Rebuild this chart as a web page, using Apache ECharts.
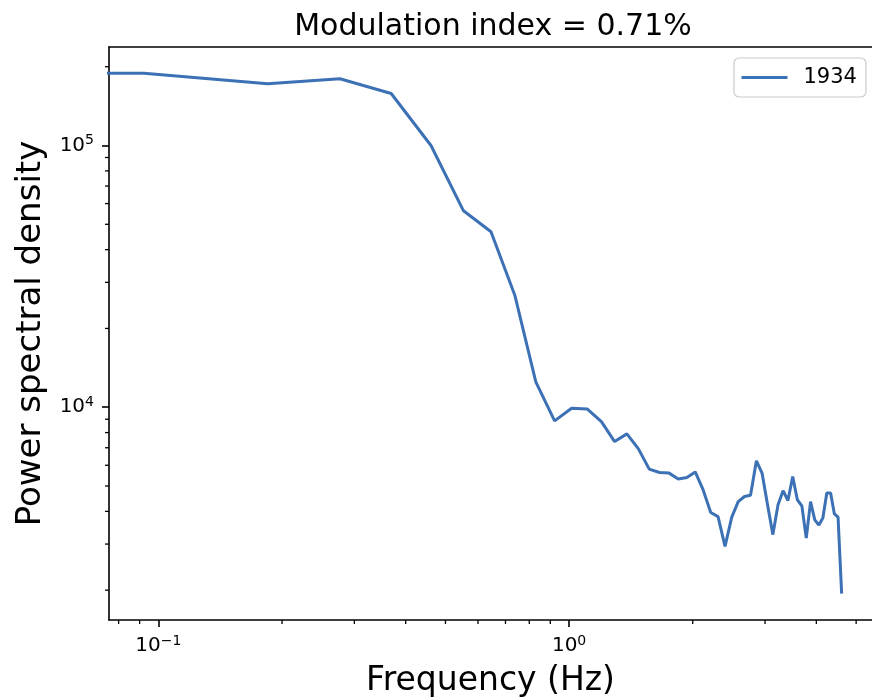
<!DOCTYPE html>
<html>
<head>
<meta charset="utf-8">
<script src="https://cdn.jsdelivr.net/npm/echarts@6/dist/echarts.min.js"></script>
<style>
html,body{margin:0;padding:0;background:#fff;overflow:hidden;}
#chart{width:872px;height:699px;}
</style>
</head>
<body>
<div id="chart"></div>
<script>
// ---- data ----
const frequencies = [0, 0.0922, 0.1844, 0.2766, 0.3688, 0.461, 0.5532, 0.6454, 0.7376, 0.8298,
  0.922, 1.0142, 1.1064, 1.1986, 1.2908, 1.383, 1.4752, 1.5674, 1.6596, 1.7518,
  1.844, 1.9362, 2.0284, 2.1206, 2.2128, 2.305, 2.3972, 2.4894, 2.5816, 2.6738,
  2.766, 2.8582, 2.9504, 3.0426, 3.1348, 3.227, 3.3192, 3.4114, 3.5036, 3.5958,
  3.688, 3.7802, 3.8724, 3.9646, 4.0568, 4.149, 4.2412, 4.3334, 4.4256, 4.5178, 4.61];
const psd1934 = [189000, 189000, 172000, 180000, 158000, 100000, 56300, 46800, 26800, 12500,
  8870, 9910, 9850, 8810, 7390, 7910, 6930, 5800, 5630, 5600,
  5320, 5390, 5660, 4830, 3960, 3820, 2940, 3800, 4360, 4560,
  4610, 6240, 5600, 4240, 3260, 4240, 4800, 4400, 5430, 4430,
  4200, 3160, 4360, 3710, 3550, 3770, 4700, 4700, 3910, 3800, 1940];
const seriesName = '1934';
const titleText = 'Modulation index = 0.71%';
const xLabel = 'Frequency (Hz)';
const yLabel = 'Power spectral density';
const xMinorTicks = [0.08, 0.09, 0.2, 0.3, 0.4, 0.5, 0.6, 0.7, 0.8, 0.9, 2, 3, 4, 5];
const yMinorTicks = [2000, 3000, 4000, 5000, 6000, 7000, 8000, 9000,
  20000, 30000, 40000, 50000, 60000, 70000, 80000, 90000, 200000];
const xRange = [0.0758, 5.465];
const yRange = [1538, 237900];

// ---- chart ----
const FONT = 'DejaVu Sans';
const chart = echarts.init(document.getElementById('chart'), null, {renderer: 'canvas'});
const lineData = frequencies.map((f, i) => [Math.max(f, 1e-4), psd1934[i]]);
function powLabel(v) {
  const lg = Math.log10(v);
  const e = Math.round(lg);
  if (Math.abs(lg - e) > 1e-6) return '';
  return '{b|10}{s|' + String(e).replace('-', '\u2212') + '}';
}
const richLab = {
  b: {fontSize: 20, fontFamily: FONT, color: '#000'},
  s: {fontSize: 14, fontFamily: FONT, color: '#000', padding: [0, 0, 10, 0]}
};
const MINOR_LEN = 4;
const spine = {show: true, lineStyle: {color: '#000', width: 1.6}};
chart.setOption({
  animation: false,
  backgroundColor: '#fff',
  title: {
    text: titleText, left: 488, top: 7, textAlign: 'center',
    textStyle: {fontFamily: FONT, fontSize: 30, fontWeight: 'normal', color: '#000'}
  },
  grid: {left: 109, top: 47, width: 763, height: 573, show: false,
    containLabel: false, outerBoundsMode: 'none'},
  legend: {
    data: [seriesName], left: 734, top: 58, orient: 'vertical',
    icon: 'rect', itemWidth: 46, itemHeight: 3,
    padding: [9, 9, 9, 7.5], borderColor: '#cccccc', borderWidth: 1.2, borderRadius: 5,
    backgroundColor: 'rgba(255,255,255,0.8)',
    textStyle: {fontFamily: FONT, fontSize: 21, color: '#000', padding: [0, 0, 0, 11]}
  },
  graphic: [{
    type: 'rect', z: 100, silent: true,
    shape: {x: 868.6, y: 48.5, width: 4, height: 570},
    style: {fill: '#fff'}
  }],
  xAxis: [{
    type: 'log', logBase: 10, min: xRange[0], max: xRange[1], position: 'bottom',
    axisLine: spine, splitLine: {show: false},
    axisTick: {show: true, length: 7, lineStyle: {color: '#000', width: 1.6}},
    axisLabel: {margin: 14, formatter: powLabel, rich: richLab, showMinLabel: false, showMaxLabel: false},
    name: xLabel, nameLocation: 'middle', nameGap: 45,
    nameTextStyle: {fontFamily: FONT, fontSize: 33, color: '#000'}
  }, {
    type: 'log', logBase: 10, min: xRange[0], max: xRange[1], position: 'top',
    axisLine: spine, splitLine: {show: false}, axisTick: {show: false}, axisLabel: {show: false}
  }],
  yAxis: {
    type: 'log', logBase: 10, min: yRange[0], max: yRange[1], position: 'left',
    axisLine: spine, splitLine: {show: false},
    axisTick: {show: true, length: 7, lineStyle: {color: '#000', width: 1.6}},
    axisLabel: {margin: 15, formatter: powLabel, rich: richLab, showMinLabel: false, showMaxLabel: false},
    name: yLabel, nameLocation: 'middle', nameGap: 61, nameRotate: 90,
    nameTextStyle: {fontFamily: FONT, fontSize: 34, color: '#000'}
  },
  series: [{
    name: seriesName, type: 'line', xAxisIndex: 0, yAxisIndex: 0,
    data: lineData, symbol: 'none', clip: true,
    lineStyle: {color: '#3c71b6', width: 3}, itemStyle: {color: '#3c71b6'}
  }, {
    name: 'xMinor', type: 'custom', clip: false, silent: true, xAxisIndex: 0, yAxisIndex: 0,
    data: xMinorTicks.map(v => [v, yRange[0]]),
    renderItem: function (params, api) {
      const p = api.coord([api.value(0), api.value(1)]);
      return {type: 'line', shape: {x1: p[0], y1: p[1], x2: p[0], y2: p[1] + MINOR_LEN},
        style: {stroke: '#000', lineWidth: 1.3}};
    }
  }, {
    name: 'yMinor', type: 'custom', clip: false, silent: true, xAxisIndex: 0, yAxisIndex: 0,
    data: yMinorTicks.map(v => [xRange[0], v]),
    renderItem: function (params, api) {
      const p = api.coord([api.value(0), api.value(1)]);
      return {type: 'line', shape: {x1: p[0], y1: p[1], x2: p[0] - MINOR_LEN, y2: p[1]},
        style: {stroke: '#000', lineWidth: 1.3}};
    }
  }]
});
</script>
</body>
</html>
